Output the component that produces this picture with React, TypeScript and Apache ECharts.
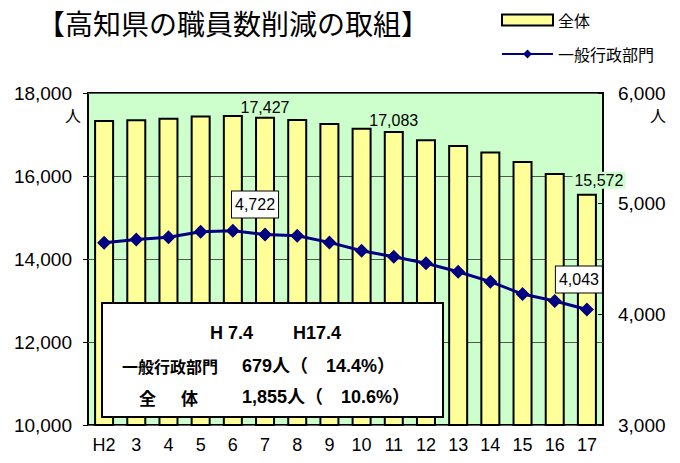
import React, { useEffect, useRef } from "react";
import * as echarts from "echarts";

const categories = ["H2", "3", "4", "5", "6", "7", "8", "9", "10", "11", "12", "13", "14", "15", "16", "17"];
const totalStaff = [17350, 17370, 17405, 17455, 17470, 17427, 17375, 17280, 17165, 17083, 16885, 16750, 16590, 16360, 16075, 15572];
const generalAdmin = [4647, 4677, 4696, 4746, 4755, 4722, 4710, 4650, 4575, 4520, 4461, 4385, 4295, 4183, 4120, 4043];
const totalLabelIdx = [5, 9, 15];
const adminLabelIdx = [5, 15];
const seriesNames = ["全体", "一般行政部門"];
const titleText = "【高知県の職員数削減の取組】";
const boxHeader = ["H 7.4", "H17.4"];
const boxRows = [
  ["一般行政部門", "679人（　14.4%）"],
  ["全", "体", "1,855人（　10.6%）"],
];

const LAT = "'Liberation Sans', Arial, 'Noto Sans CJK JP', sans-serif";
const CJK = "'Noto Sans CJK JP', 'Liberation Sans', sans-serif";

export default function App() {
  const ref = useRef<HTMLDivElement>(null);
  useEffect(() => {
    if (!ref.current) return;
    const chart = echarts.init(ref.current, null, { renderer: "svg" });
    const fmt = (v: number) => v.toLocaleString("en-US");

    const barData = totalStaff.map((v, i) => {
      if (!totalLabelIdx.includes(i)) return v;
      const last = i === totalStaff.length - 1;
      return {
        value: v,
        label: {
          show: true,
          position: "top",
          distance: i === 5 ? 1 : last ? 5 : 3,
          offset: last ? [12, 0] : [0, 0],
          formatter: (p: any) => fmt(p.value),
          fontSize: 16,
          color: "#000",
          fontFamily: LAT,
          backgroundColor: last ? "#CCFFCC" : "transparent",
          padding: last ? [1, 2, 0, 2] : 0,
        },
      };
    });
    const lineData = generalAdmin.map((v, i) => {
      if (!adminLabelIdx.includes(i)) return v;
      const last = i === generalAdmin.length - 1;
      return {
        value: v,
        label: {
          show: true,
          position: "top",
          distance: 10,
          offset: last ? [-8, 0] : [-10, 0],
          formatter: (p: any) => fmt(p.value),
          fontSize: 16,
          color: "#000",
          fontFamily: LAT,
          backgroundColor: "#fff",
          borderColor: "#000",
          borderWidth: 1,
          padding: [5, 3, 5, 3],
        },
      };
    });

    const graphics: any[] = [
      {
        type: "text",
        x: 37,
        y: 23,
        style: {
          text: titleText,
          fontSize: 28,
          fontFamily: CJK,
          fill: "#000",
          textVerticalAlign: "middle",
        },
      },
      { type: "text", x: 81, y: 115, style: { text: "人", fontSize: 16, fontFamily: CJK, fill: "#000", textAlign: "right", textVerticalAlign: "middle" } },
      { type: "text", x: 666, y: 115, style: { text: "人", fontSize: 16, fontFamily: CJK, fill: "#000", textAlign: "right", textVerticalAlign: "middle" } },
      {
        type: "rect",
        z: 100,
        shape: { x: 102, y: 303, width: 341, height: 114 },
        style: { fill: "#fff", stroke: "#000", lineWidth: 2 },
      },
      { type: "text", z: 101, x: 210, y: 333, style: { text: boxHeader[0], fontSize: 18, fontWeight: "bold", fontFamily: LAT, fill: "#000", textVerticalAlign: "middle" } },
      { type: "text", z: 101, x: 293, y: 333, style: { text: boxHeader[1], fontSize: 18, fontWeight: "bold", fontFamily: LAT, fill: "#000", textVerticalAlign: "middle" } },
      { type: "text", z: 101, x: 122, y: 366, style: { text: boxRows[0][0], fontSize: 16, fontWeight: "bold", fontFamily: CJK, fill: "#000", textVerticalAlign: "middle" } },
      { type: "text", z: 101, x: 242, y: 366, style: { text: boxRows[0][1], fontSize: 18, fontWeight: "bold", fontFamily: LAT, fill: "#000", textVerticalAlign: "middle" } },
      { type: "text", z: 101, x: 139, y: 397, style: { text: boxRows[1][0], fontSize: 17, fontWeight: "bold", fontFamily: CJK, fill: "#000", textVerticalAlign: "middle" } },
      { type: "text", z: 101, x: 181, y: 397, style: { text: boxRows[1][1], fontSize: 17, fontWeight: "bold", fontFamily: CJK, fill: "#000", textVerticalAlign: "middle" } },
      { type: "text", z: 101, x: 242, y: 397, style: { text: boxRows[1][2], fontSize: 18, fontWeight: "bold", fontFamily: LAT, fill: "#000", textVerticalAlign: "middle" } },
    ];

    chart.setOption({
      animation: false,
      backgroundColor: "#fff",
      textStyle: { fontFamily: LAT },
      legend: {
        orient: "vertical",
        left: 496,
        top: 7,
        itemWidth: 51,
        itemHeight: 11,
        itemGap: 18,
        textStyle: { fontSize: 16, color: "#000", fontFamily: CJK },
        data: [
          { name: seriesNames[0], icon: "rect" },
          { name: seriesNames[1] },
        ],
      },
      grid: {
        left: 88,
        right: 77,
        top: 93,
        bottom: 38,
        show: true,
        backgroundColor: "#CCFFCC",
        borderColor: "#000",
        borderWidth: 2,
      },
      xAxis: {
        type: "category",
        data: categories,
        axisLine: { show: false },
        axisTick: { show: false },
        axisLabel: { fontSize: 18, color: "#000", margin: 11, fontFamily: LAT },
      },
      yAxis: [
        {
          type: "value",
          min: 10000,
          max: 18000,
          interval: 2000,
          axisLine: { show: false },
          axisTick: { show: true, length: 5, lineStyle: { color: "#000", width: 1 } },
          axisLabel: { fontSize: 19, color: "#000", margin: 16, formatter: fmt, fontFamily: LAT },
          splitLine: { show: true, lineStyle: { color: "#555", width: 1 } },
        },
        {
          type: "value",
          min: 3000,
          max: 6000,
          interval: 1000,
          position: "right",
          axisLine: { show: false },
          axisTick: { show: true, inside: true, length: 5, lineStyle: { color: "#000", width: 1 } },
          axisLabel: { fontSize: 19, color: "#000", margin: 15, formatter: fmt, fontFamily: LAT },
          splitLine: { show: false },
        },
      ],
      series: [
        {
          name: seriesNames[0],
          type: "bar",
          yAxisIndex: 0,
          barWidth: 20,
          itemStyle: { color: "#FFFF99", borderColor: "#000", borderWidth: 2 },
          data: barData,
        },
        {
          name: seriesNames[1],
          type: "line",
          yAxisIndex: 1,
          symbol: "diamond",
          symbolSize: 14,
          lineStyle: { color: "#000080", width: 3 },
          itemStyle: { color: "#000080" },
          z: 5,
          data: lineData,
        },
      ],
      graphic: graphics,
    });
    return () => chart.dispose();
  }, []);
  return <div ref={ref} style={{ width: 680, height: 463, position: "absolute", left: 0, top: 0 }} />;
}
